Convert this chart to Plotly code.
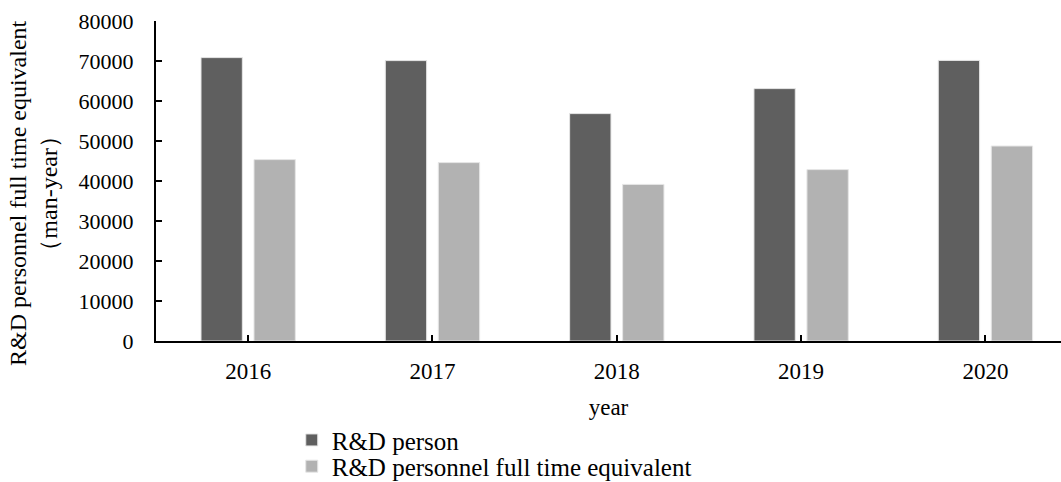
import plotly.graph_objects as go

years = ["2016", "2017", "2018", "2019", "2020"]
rd_person = [70850, 70100, 56850, 63100, 70150]
rd_fte = [45350, 44600, 39150, 42850, 48750]

FONT = "Liberation Serif, Times New Roman, serif"

fig = go.Figure()
fig.add_trace(go.Bar(x=years, y=rd_person, name="R&D person", legend="legend",
                     marker=dict(color="#5f5f5f", line=dict(color="#e6e6e6", width=1))))
fig.add_trace(go.Bar(x=years, y=rd_fte, name="R&D personnel full time equivalent", legend="legend2",
                     marker=dict(color="#b2b2b2", line=dict(color="#e6e6e6", width=1))))

leg_common = dict(xanchor="left", yanchor="middle", orientation="v",
                  font=dict(size=25, family=FONT, color="black"),
                  itemwidth=30, bgcolor="rgba(0,0,0,0)")

fig.update_layout(
    width=1061, height=482,
    margin=dict(l=156, r=0, t=21, b=141, autoexpand=False),
    paper_bgcolor="white", plot_bgcolor="white",
    font=dict(family=FONT, color="black", size=22),
    barmode="group", bargap=0.425, bargroupgap=0.22,
    showlegend=True,
    legend=dict(x=0.15, y=-0.31, **leg_common),
    legend2=dict(x=0.15, y=-0.392, **leg_common),
    xaxis=dict(type="category", range=[-0.5, 4.41], automargin=False,
               showline=True, linecolor="black", linewidth=2,
               ticks="inside", ticklen=6, tickwidth=2, tickcolor="black",
               tickfont=dict(size=23, family=FONT), ticklabelstandoff=8,
               title=dict(text="year", font=dict(size=23, family=FONT), standoff=16),
               showgrid=False, zeroline=False),
    yaxis=dict(range=[0, 80000], dtick=10000, tickformat="d", automargin=False,
               showline=True, linecolor="black", linewidth=2,
               ticks="inside", ticklen=6, tickwidth=2, tickcolor="black",
               tickfont=dict(size=22, family=FONT), ticklabelstandoff=16,
               showgrid=False, zeroline=False),
    annotations=[dict(text="R&D personnel full time equivalent<br>（man-year）",
                      xref="paper", yref="paper", x=0, y=0.4625,
                      xshift=-123, xanchor="center", yanchor="middle",
                      textangle=-90, showarrow=False,
                      font=dict(size=24, family=FONT, color="black"))],
)

fig.write_html("out.html", config={"displayModeBar": False},
               post_script="document.body.style.margin='0';document.body.style.overflow='hidden';")
